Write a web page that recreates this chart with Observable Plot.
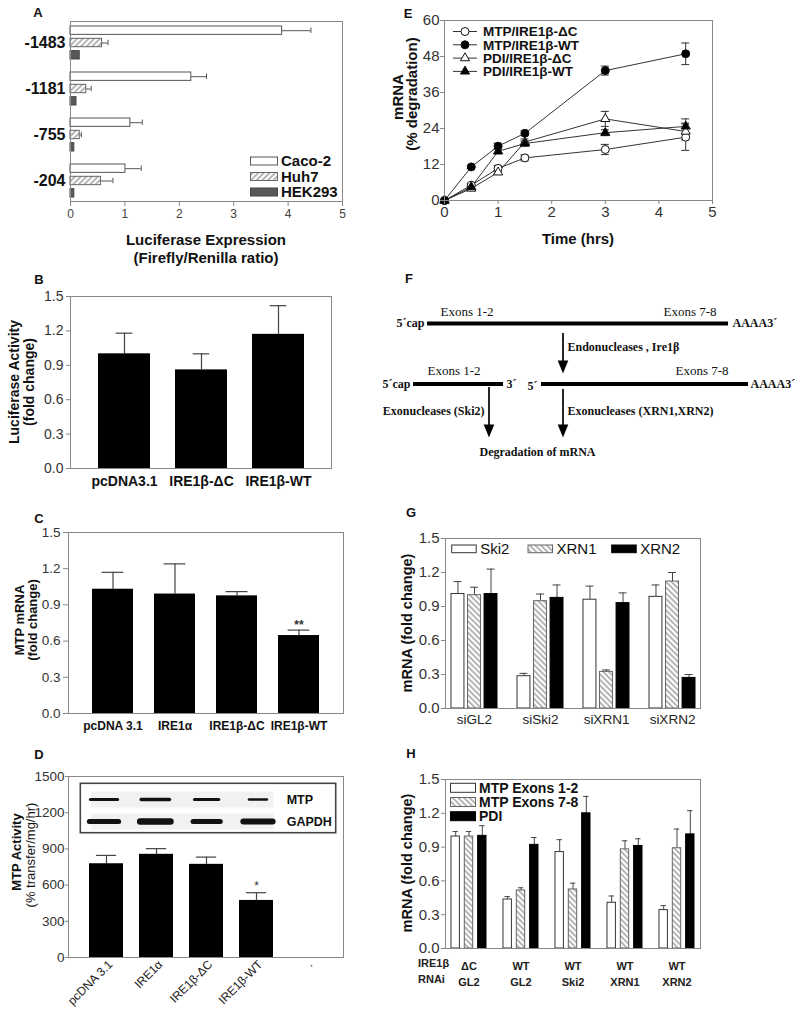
<!DOCTYPE html>
<html><head><meta charset="utf-8">
<script src="https://cdn.jsdelivr.net/npm/d3@7"></script>
<script src="https://cdn.jsdelivr.net/npm/@observablehq/plot@0.6"></script>
<style>
body{margin:0;background:#fff;}
#fig{position:relative;width:800px;height:1012px;overflow:hidden;font-family:"Liberation Sans",Arial,sans-serif;color:#111;background:#fff;}
.t{position:absolute;white-space:nowrap;line-height:1;}
</style></head><body><div id="fig"></div><script>
// ---------------- DATA ----------------
// Panel A
const aGroups = ["-1483", "-1181", "-755", "-204"];
const aSeries = ["Caco-2", "Huh7", "HEK293"];
const aCaco = [3.89, 2.22, 1.10, 1.01];
const aCacoErr = [0.53, 0.28, 0.22, 0.29];
const aHuh7 = [0.58, 0.29, 0.17, 0.56];
const aHuh7Err = [0.11, 0.09, 0.03, 0.22];
const aHEK = [0.17, 0.11, 0.07, 0.07];
const aHEKErr = [0, 0, 0, 0];
const aTicks = [0, 1, 2, 3, 4, 5];
// Panel B
const bCats = ["pcDNA3.1", "IRE1β-ΔC", "IRE1β-WT"];
const bVals = [1.00, 0.86, 1.17];
const bErr = [0.18, 0.14, 0.25];
const foldTicks = [0, 0.3, 0.6, 0.9, 1.2, 1.5];
// Panel C
const cCats = ["pcDNA 3.1", "IRE1α", "IRE1β-ΔC", "IRE1β-WT"];
const cVals = [1.03, 0.99, 0.975, 0.646];
const cErr = [0.14, 0.25, 0.035, 0.045];
const cSig = ["", "", "", "**"];
// Panel D
const dCats = ["pcDNA 3.1", "IRE1α", "IRE1β-ΔC", "IRE1β-WT", "."];
const dVals = [777, 855, 772, 473, null];
const dErr = [69, 47, 60, 64, null];
const dSig = ["", "", "", "*", ""];
const dTicks = [0, 300, 600, 900, 1200, 1500];
const blotRows = ["MTP", "GAPDH"];
const blotLanes = [1, 2, 3, 4];
const blotMtpLen = [0.53, 0.55, 0.47, 0.35];
const blotMtpThick = [3, 3.5, 3.2, 2.5];
const blotGapdhLen = [0.57, 0.59, 0.53, 0.57];
const blotGapdhThick = [5, 6.5, 5, 6];
// Panel E
const eTime = [0, 0.5, 1, 1.5, 3, 4.5];
const eMtpDC = [0, 5.1, 10.7, 14.2, 17.0, 21.1];
const eMtpDCErr = [0, 0.6, 1.0, 1.0, 1.7, 4.4];
const eMtpWT = [0, 11.2, 18.1, 22.4, 43.3, 48.9];
const eMtpWTErr = [0, 0.5, 1.0, 0.8, 1.5, 3.6];
const ePdiDC = [0, 4.0, 9.4, 19.5, 27.2, 23.0];
const ePdiDCErr = [0, 0.5, 0.6, 1.0, 2.5, 2.8];
const ePdiWT = [0, 4.5, 16.4, 19.0, 22.6, 24.7];
const ePdiWTErr = [0, 0.5, 0.8, 0.8, 1.0, 2.5];
const eSeriesNames = ["MTP/IRE1β-ΔC", "MTP/IRE1β-WT", "PDI/IRE1β-ΔC", "PDI/IRE1β-WT"];
const eYTicks = [0, 12, 24, 36, 48, 60];
const eXTicks = [0, 1, 2, 3, 4, 5];
// Panel F (diagram, in page-like units)
const fStrands = [
  {x1: 427, x2: 728, y: 323},
  {x1: 413, x2: 503, y: 383.5},
  {x1: 541, x2: 748, y: 383.5}
];
const fArrows = [
  {x: 562.5, y1: 333, y2: 373},
  {x: 488.5, y1: 387, y2: 437},
  {x: 562.5, y1: 389, y2: 437}
];
const fLabelsStartBold = [
  {x: 732, y: 323, text: "AAAA3´"},
  {x: 567, y: 346.5, text: "Endonucleases , Ire1β"},
  {x: 506, y: 384, text: "3´"},
  {x: 527, y: 385.5, text: "5´"},
  {x: 750, y: 384, text: "AAAA3´"},
  {x: 567, y: 411, text: "Exonucleases (XRN1,XRN2)"},
  {x: 479, y: 452, text: "Degradation of mRNA"}
];
const fLabelsEndBold = [
  {x: 424, y: 323, text: "5´cap"},
  {x: 410, y: 384, text: "5´cap"},
  {x: 484, y: 411, text: "Exonucleases (Ski2)"}
];
const fLabelsStartPlain = [
  {x: 440, y: 311, text: "Exons 1-2"},
  {x: 663, y: 311, text: "Exons 7-8"},
  {x: 427, y: 370, text: "Exons 1-2"},
  {x: 675, y: 370, text: "Exons 7-8"}
];
// Panel G
const gGroups = ["siGL2", "siSki2", "siXRN1", "siXRN2"];
const gSeries = ["Ski2", "XRN1", "XRN2"];
const gSki2 = [1.01, 0.285, 0.96, 0.985];
const gSki2Err = [0.11, 0.025, 0.12, 0.105];
const gXRN1 = [1.00, 0.947, 0.323, 1.12];
const gXRN1Err = [0.07, 0.063, 0.017, 0.08];
const gXRN2 = [1.01, 0.976, 0.93, 0.27];
const gXRN2Err = [0.22, 0.114, 0.09, 0.03];
// Panel H
const hIre = ["ΔC", "WT", "WT", "WT", "WT"];
const hRnai = ["GL2", "GL2", "Ski2", "XRN1", "XRN2"];
const hSeries = ["MTP Exons 1-2", "MTP Exons 7-8", "PDI"];
const hEx12 = [0.994, 0.435, 0.856, 0.406, 0.341];
const hEx12Err = [0.044, 0.026, 0.11, 0.06, 0.04];
const hEx78 = [0.994, 0.515, 0.524, 0.88, 0.89];
const hEx78Err = [0.044, 0.024, 0.056, 0.076, 0.17];
const hPdi = [1.0, 0.92, 1.2, 0.91, 1.013];
const hPdiErr = [0.09, 0.065, 0.15, 0.064, 0.21];

// ---------------- HELPERS ----------------
const FONT = '"Liberation Sans", Arial, sans-serif';
const SERIF = '"Liberation Serif", "Times New Roman", serif';
const fig = document.getElementById("fig");
const intFmt = d3.format("d");
const oneFmt = d3.format(".1f");

const defs = d3.select(fig).append("svg").attr("width", 0).attr("height", 0)
  .style("position", "absolute").append("defs");
function hatch(id, angle) {
  const p = defs.append("pattern").attr("id", id).attr("patternUnits", "userSpaceOnUse")
    .attr("width", 4).attr("height", 4).attr("patternTransform", `rotate(${angle})`);
  p.append("rect").attr("width", 4).attr("height", 4).attr("fill", "#fff");
  p.append("line").attr("x1", 2).attr("x2", 2).attr("y1", 0).attr("y2", 4)
    .attr("stroke", "#7a7a7a").attr("stroke-width", 1.1);
}
hatch("hatchUp", 45);
hatch("hatchDown", -45);

function addPlot(opts, left, top) {
  const p = Plot.plot({...opts, style: {fontFamily: FONT, background: "transparent", overflow: "visible", color: "#222", ...(opts.style || {})}});
  p.style.position = "absolute";
  p.style.left = left + "px";
  p.style.top = top + "px";
  fig.appendChild(p);
  return p;
}
function txt(s, x, y, {size = 13, weight = "bold", anchor = "middle", rotate = 0, family = FONT, color = "#111"} = {}) {
  const d = document.createElement("div");
  d.className = "t";
  d.textContent = s;
  d.style.fontSize = size + "px";
  d.style.fontWeight = weight;
  d.style.fontFamily = family;
  d.style.color = color;
  d.style.left = x + "px";
  d.style.top = y + "px";
  const tx = anchor === "middle" ? "-50%" : anchor === "end" ? "-100%" : "0";
  d.style.transform = `translate(${tx},-50%)` + (rotate ? ` rotate(${rotate}deg)` : "");
  fig.appendChild(d);
  return d;
}
function subInsets(bw, barW, k, n) {
  const gap = (bw - barW) / (n - 1);
  const start = k * gap;
  return {start, end: bw - barW - start, center: start + barW / 2 - bw / 2};
}
function grouped(groups, names, vals, errs) {
  return names.map((s, k) => groups.map((g, i) => ({group: g, series: s, value: vals[k][i], err: errs[k][i]})));
}
function bandwidth(range, n, pi, po) { return range / (n - pi + 2 * po) * (1 - pi); }

// ---------------- PANEL A ----------------
{
  const pi = 0.29, po = 0.086;
  const bw = bandwidth(180, aGroups.length, pi, po);
  const rowsBy = grouped(aGroups, aSeries, [aCaco, aHuh7, aHEK], [aCacoErr, aHuh7Err, aHEKErr]);
  const sty = [{fill: "#fff", stroke: "#555"}, {fill: "url(#hatchUp)", stroke: "#666"}, {fill: "#595959", stroke: "#444"}];
  addPlot({
    width: 350, height: 230, marginLeft: 70, marginRight: 8, marginTop: 21, marginBottom: 29,
    x: {domain: [0, 5], label: null},
    y: {type: "band", domain: aGroups, paddingInner: pi, paddingOuter: po, label: null},
    marks: [
      ...rowsBy.flatMap((rows, k) => {
        const ins = subInsets(bw, 8.3, k, 3);
        const we = rows.filter(d => d.err > 0);
        return [
          Plot.ruleY(we, {y: "group", x1: "value", x2: d => d.value + d.err, dy: ins.center, stroke: "#555"}),
          Plot.tickX(we, {y: "group", x: d => d.value + d.err, insetTop: ins.start + 1.5, insetBottom: ins.end + 1.5, stroke: "#555"}),
          Plot.barX(rows, {y: "group", x1: 0, x2: "value", insetTop: ins.start, insetBottom: ins.end, strokeWidth: 1, ...sty[k]})
        ];
      }),
      Plot.frame({stroke: "#888"}),
      Plot.axisX({ticks: aTicks, tickFormat: intFmt, tickSize: 5, tickPadding: 3, fontSize: 12, stroke: "#888", fill: "#444"}),
      Plot.axisY({tickSize: 0, tickPadding: 5, fontSize: 16, fontWeight: "bold", fill: "#111"})
    ]
  }, 0, 0);
  txt("Luciferase Expression", 206, 239, {size: 15});
  txt("(Firefly/Renilla ratio)", 206, 257, {size: 15});
  // legend
  const lg = d3.select(fig).append("svg").attr("width", 110).attr("height", 50)
    .style("position", "absolute").style("left", "248px").style("top", "152px");
  aSeries.forEach((s, k) => {
    lg.append("rect").attr("x", 2.5).attr("y", 5 + k * 15.5).attr("width", 27).attr("height", 8)
      .attr("fill", sty[k].fill).attr("stroke", sty[k].stroke);
    lg.append("text").attr("x", 33).attr("y", 9 + k * 15.5).attr("dy", "0.36em").text(s)
      .attr("font-family", FONT).attr("font-size", 15).attr("font-weight", "bold").attr("fill", "#111");
  });
}

// ---------------- PANEL B ----------------
{
  const rows = bCats.map((c, i) => ({cat: c, value: bVals[i], err: bErr[i]}));
  const pi = 0.326, po = 0.342;
  const bw = bandwidth(261, 3, pi, po);
  const capIn = (bw - 17) / 2;
  addPlot({
    width: 341, height: 208, marginLeft: 70, marginRight: 10, marginTop: 10, marginBottom: 26,
    x: {type: "band", domain: bCats, paddingInner: pi, paddingOuter: po, label: null},
    y: {domain: [0, 1.5], label: null},
    marks: [
      Plot.ruleX(rows, {x: "cat", y1: "value", y2: d => d.value + d.err, stroke: "#444", strokeWidth: 1.2}),
      Plot.tickY(rows, {x: "cat", y: d => d.value + d.err, insetLeft: capIn, insetRight: capIn, stroke: "#444", strokeWidth: 1.2}),
      Plot.barY(rows, {x: "cat", y1: 0, y2: "value", fill: "#000"}),
      Plot.frame({stroke: "#888"}),
      Plot.axisY({ticks: foldTicks, tickFormat: oneFmt, tickSize: 4, tickPadding: 3, fontSize: 14, stroke: "#888", fill: "#333"}),
      Plot.axisX({tickSize: 0, tickPadding: 8, fontSize: 14, fontWeight: "bold", fill: "#111"})
    ]
  }, 0, 286);
  txt("Luciferase Activity", 14, 382, {size: 14, rotate: -90});
  txt("(fold change)", 29, 382, {size: 14, rotate: -90});
}

// ---------------- PANEL C ----------------
{
  const rows = cCats.map((c, i) => ({cat: c, value: cVals[i], err: cErr[i], sig: cSig[i]}));
  const pi = 0.338, po = 0.38;
  const bw = bandwidth(275, 4, pi, po);
  const capIn = (bw - 22) / 2;
  addPlot({
    width: 353, height: 215, marginLeft: 68, marginRight: 10, marginTop: 10, marginBottom: 24,
    x: {type: "band", domain: cCats, paddingInner: pi, paddingOuter: po, label: null},
    y: {domain: [0, 1.5], label: null},
    marks: [
      Plot.ruleX(rows, {x: "cat", y1: "value", y2: d => d.value + d.err, stroke: "#444", strokeWidth: 1.2}),
      Plot.tickY(rows, {x: "cat", y: d => d.value + d.err, insetLeft: capIn, insetRight: capIn, stroke: "#444", strokeWidth: 1.2}),
      Plot.barY(rows, {x: "cat", y1: 0, y2: "value", fill: "#000"}),
      Plot.text(rows, {x: "cat", y: d => d.value + d.err, text: "sig", dy: -5, fontSize: 12, fontWeight: "bold", fill: "#333"}),
      Plot.frame({stroke: "#888"}),
      Plot.axisY({ticks: foldTicks, tickFormat: oneFmt, tickSize: 5, tickPadding: 3, fontSize: 13.5, stroke: "#888", fill: "#333"}),
      Plot.axisX({tickSize: 0, tickPadding: 8, fontSize: 12, fontWeight: "bold", fill: "#111"})
    ]
  }, 0, 522);
  txt("MTP mRNA", 19, 620, {size: 13, rotate: -90});
  txt("(fold change)", 32, 620, {size: 13, rotate: -90});
}

// ---------------- PANEL D ----------------
{
  const rows = dCats.map((c, i) => ({cat: c, value: dVals[i], err: dErr[i], sig: dSig[i]})).filter(d => d.value != null);
  const pi = 0.33, po = 0.39;
  const bw = bandwidth(275, 5, pi, po);
  const capIn = (bw - 20) / 2;
  addPlot({
    width: 353, height: 246, marginLeft: 68, marginRight: 10, marginTop: 10, marginBottom: 55,
    x: {type: "band", domain: dCats, paddingInner: pi, paddingOuter: po, label: null},
    y: {domain: [0, 1500], label: null},
    marks: [
      Plot.ruleX(rows, {x: "cat", y1: "value", y2: d => d.value + d.err, stroke: "#444", strokeWidth: 1.2}),
      Plot.tickY(rows, {x: "cat", y: d => d.value + d.err, insetLeft: capIn, insetRight: capIn, stroke: "#444", strokeWidth: 1.2}),
      Plot.barY(rows, {x: "cat", y1: 0, y2: "value", fill: "#000"}),
      Plot.text(rows, {x: "cat", y: d => d.value + d.err, text: "sig", dy: -7, fontSize: 12, fill: "#333"}),
      Plot.frame({stroke: "#888"}),
      Plot.axisY({ticks: dTicks, tickFormat: intFmt, tickSize: 3, tickPadding: 1, fontSize: 13.5, stroke: "#888", fill: "#333"}),
      Plot.axisX({tickSize: 0, tickPadding: 5, tickRotate: -45, fontSize: 12, fill: "#222", dx: 4})
    ]
  }, 0, 766);
  txt("MTP Activity", 16, 852, {size: 13, rotate: -90});
  txt("(% transfer/mg/hr)", 30, 855, {size: 13, weight: "normal", rotate: -90});
  // blot inset
  const blot = [
    ...blotLanes.map((l, i) => ({row: "MTP", lane: l, len: blotMtpLen[i], thick: blotMtpThick[i]})),
    ...blotLanes.map((l, i) => ({row: "GAPDH", lane: l, len: blotGapdhLen[i], thick: blotGapdhThick[i]}))
  ];
  addPlot({
    width: 257, height: 51, margin: 0,
    x: {domain: [0.513, 5.52], axis: null},
    y: {type: "point", domain: blotRows, range: [16.5, 38.5], padding: 0, axis: null},
    marks: [
      Plot.frame({fill: "#fff", stroke: "#444", strokeWidth: 1.6, inset: 0.8}),
      Plot.ruleY(blotRows, {y: d => d, x1: 0.75, x2: 4.3, stroke: "#f1f1f1", strokeWidth: 16}),
      Plot.ruleY(blot, {y: "row", x1: d => d.lane - d.len / 2, x2: d => d.lane + d.len / 2, strokeWidth: "thick", stroke: "#111", strokeLinecap: "round"}),
      Plot.text(blotRows, {x: 4.55, y: d => d, text: d => d, textAnchor: "start", fontSize: 12.5, fontWeight: "bold", fill: "#111"})
    ]
  }, 79, 782);
}

// ---------------- PANEL E ----------------
const eDefs = [
  {name: eSeriesNames[0], v: eMtpDC, e: eMtpDCErr, symbol: "circle", fill: "#fff", r: 4},
  {name: eSeriesNames[1], v: eMtpWT, e: eMtpWTErr, symbol: "circle", fill: "#000", r: 4},
  {name: eSeriesNames[2], v: ePdiDC, e: ePdiDCErr, symbol: "triangle", fill: "#fff", r: 3.4},
  {name: eSeriesNames[3], v: ePdiWT, e: ePdiWTErr, symbol: "triangle", fill: "#000", r: 3.4}
];
{
  const rows = eDefs.flatMap(s => eTime.map((t, i) => ({series: s.name, t, v: s.v[i], e: s.e[i]})));
  const er = rows.filter(d => d.e > 0);
  addPlot({
    width: 322, height: 212, marginLeft: 44, marginRight: 10, marginTop: 10, marginBottom: 22,
    x: {domain: [0, 5], label: null},
    y: {domain: [0, 60], label: null},
    marks: [
      ...eDefs.map(s => Plot.line(rows.filter(d => d.series === s.name), {x: "t", y: "v", stroke: "#333", strokeWidth: 1})),
      Plot.ruleX(er, {x: "t", y1: d => d.v - d.e, y2: d => d.v + d.e, stroke: "#333"}),
      Plot.ruleY(er, {x1: "t", x2: "t", y: d => d.v + d.e, insetLeft: -4, insetRight: -4, stroke: "#333"}),
      Plot.ruleY(er, {x1: "t", x2: "t", y: d => d.v - d.e, insetLeft: -4, insetRight: -4, stroke: "#333"}),
      ...eDefs.map(s => Plot.dot(rows.filter(d => d.series === s.name), {x: "t", y: "v", symbol: s.symbol, r: s.r, fill: s.fill, stroke: "#111", strokeWidth: 1})),
      Plot.frame({stroke: "#888"}),
      Plot.axisY({ticks: eYTicks, tickFormat: intFmt, tickSize: 4, tickPadding: 1, fontSize: 15, stroke: "#888", fill: "#333"}),
      Plot.axisX({ticks: eXTicks, tickFormat: intFmt, tickSize: 4, tickPadding: 2, fontSize: 15, stroke: "#888", fill: "#333"})
    ]
  }, 400, 10);
  txt("mRNA", 397, 97, {size: 15, rotate: -90});
  txt("(% degradation)", 411, 94, {size: 15, rotate: -90});
  txt("Time (hrs)", 578, 238, {size: 15});
  const lg = d3.select(fig).append("svg").attr("width", 150).attr("height", 58)
    .style("position", "absolute").style("left", "448px").style("top", "24px");
  const tri = d3.symbol(d3.symbolTriangle, Math.PI * 3.4 * 3.4)();
  eDefs.forEach((s, k) => {
    const y = 7.5 + k * 13.3;
    lg.append("line").attr("x1", 5).attr("x2", 29).attr("y1", y).attr("y2", y).attr("stroke", "#333");
    if (s.symbol === "circle") lg.append("circle").attr("cx", 17).attr("cy", y).attr("r", 4).attr("fill", s.fill).attr("stroke", "#111");
    else lg.append("path").attr("d", tri).attr("transform", `translate(17,${y})`).attr("fill", s.fill).attr("stroke", "#111");
    lg.append("text").attr("x", 35).attr("y", y).attr("dy", "0.36em").text(s.name)
      .attr("font-family", FONT).attr("font-size", 13.5).attr("font-weight", "bold").attr("fill", "#111");
  });
}

// ---------------- PANEL F ----------------
{
  const headH = 13, headW = 10.6;
  const head = {draw(ctx) { ctx.moveTo(-headW / 2, -headH / 2); ctx.lineTo(headW / 2, -headH / 2); ctx.lineTo(0, headH / 2); ctx.closePath(); }};
  const txtOpts = {x: "x", y: "y", text: "text", fontFamily: SERIF, fill: "#111"};
  addPlot({
    width: 440, height: 180, margin: 0,
    x: {domain: [360, 800], range: [0, 440], axis: null},
    y: {domain: [290, 470], range: [0, 180], axis: null},
    marks: [
      Plot.ruleY(fStrands, {y: "y", x1: "x1", x2: "x2", stroke: "#000", strokeWidth: 4}),
      Plot.ruleX(fArrows, {x: "x", y1: "y1", y2: d => d.y2 - headH + 1, stroke: "#000", strokeWidth: 1.7}),
      Plot.dot(fArrows, {x: "x", y: d => d.y2 - headH / 2, symbol: head, r: 1, fill: "#000", stroke: "none"}),
      Plot.text(fLabelsStartBold, {...txtOpts, textAnchor: "start", fontWeight: "bold", fontSize: 12}),
      Plot.text(fLabelsEndBold, {...txtOpts, textAnchor: "end", fontWeight: "bold", fontSize: 12}),
      Plot.text(fLabelsStartPlain, {...txtOpts, textAnchor: "start", fontSize: 13})
    ]
  }, 360, 290);
}

// ---------------- PANEL G ----------------
{
  const pi = 0.31, po = 0.086;
  const bw = bandwidth(255, 4, pi, po);
  const rowsBy = grouped(gGroups, gSeries, [gSki2, gXRN1, gXRN2], [gSki2Err, gXRN1Err, gXRN2Err]);
  const sty = [{fill: "#fff", stroke: "#333"}, {fill: "url(#hatchDown)", stroke: "#666"}, {fill: "#000", stroke: "#000"}];
  const barW = 12.5;
  addPlot({
    width: 310, height: 202, marginLeft: 45, marginRight: 10, marginTop: 10, marginBottom: 22,
    x: {type: "band", domain: gGroups, paddingInner: pi, paddingOuter: po, label: null},
    y: {domain: [0, 1.5], label: null},
    marks: [
      ...rowsBy.flatMap((rows, k) => {
        const ins = subInsets(bw, barW, k, 3);
        return [
          Plot.ruleX(rows, {x: "group", y1: "value", y2: d => d.value + d.err, dx: ins.center, stroke: "#444"}),
          Plot.tickY(rows, {x: "group", y: d => d.value + d.err, insetLeft: ins.start + 2.5, insetRight: ins.end + 2.5, stroke: "#444"}),
          Plot.barY(rows, {x: "group", y1: 0, y2: "value", insetLeft: ins.start, insetRight: ins.end, strokeWidth: 1, ...sty[k]})
        ];
      }),
      Plot.frame({stroke: "#888"}),
      Plot.axisY({ticks: foldTicks, tickFormat: oneFmt, tickSize: 4, tickPadding: 2, fontSize: 15, stroke: "#888", fill: "#333"}),
      Plot.axisX({tickSize: 0, tickPadding: 6, fontSize: 13.5, fill: "#222"})
    ]
  }, 400, 528);
  txt("mRNA (fold change)", 407, 623, {size: 14.5, rotate: -90});
  const lg = d3.select(fig).append("svg").attr("width", 250).attr("height", 18)
    .style("position", "absolute").style("left", "448px").style("top", "540px");
  const xs = [3.7, 80, 163.7];
  gSeries.forEach((s, k) => {
    lg.append("rect").attr("x", xs[k]).attr("y", 5).attr("width", 24.5).attr("height", 7.7)
      .attr("fill", sty[k].fill).attr("stroke", sty[k].stroke);
    lg.append("text").attr("x", xs[k] + 28.5).attr("y", 9).attr("dy", "0.36em").text(s)
      .attr("font-family", FONT).attr("font-size", 15).attr("fill", "#111");
  });
}

// ---------------- PANEL H ----------------
{
  const hGroups = hIre.map((d, i) => d + " " + hRnai[i]);
  const pi = 0.32, po = 0.095;
  const bw = bandwidth(255, 5, pi, po);
  const rowsBy = grouped(hGroups, hSeries, [hEx12, hEx78, hPdi], [hEx12Err, hEx78Err, hPdiErr]);
  const sty = [{fill: "#fff", stroke: "#333"}, {fill: "url(#hatchDown)", stroke: "#666"}, {fill: "#000", stroke: "#000"}];
  const barW = 9;
  addPlot({
    width: 310, height: 224, marginLeft: 45, marginRight: 10, marginTop: 10, marginBottom: 45,
    x: {type: "band", domain: hGroups, paddingInner: pi, paddingOuter: po, label: null},
    y: {domain: [0, 1.5], label: null},
    marks: [
      ...rowsBy.flatMap((rows, k) => {
        const ins = subInsets(bw, barW, k, 3);
        return [
          Plot.ruleX(rows, {x: "group", y1: "value", y2: d => d.value + d.err, dx: ins.center, stroke: "#444"}),
          Plot.tickY(rows, {x: "group", y: d => d.value + d.err, insetLeft: ins.start + 1.5, insetRight: ins.end + 1.5, stroke: "#444"}),
          Plot.barY(rows, {x: "group", y1: 0, y2: "value", insetLeft: ins.start, insetRight: ins.end, strokeWidth: 1, ...sty[k]})
        ];
      }),
      Plot.frame({stroke: "#888"}),
      Plot.axisY({ticks: foldTicks, tickFormat: oneFmt, tickSize: 4, tickPadding: 2, fontSize: 15, stroke: "#888", fill: "#333"}),
      Plot.axisX({tickSize: 0, tickPadding: 10, fontSize: 11, fontWeight: "bold", lineHeight: 1.45, fill: "#222",
        tickFormat: (d) => hIre[hGroups.indexOf(d)] + "\n" + hRnai[hGroups.indexOf(d)]})
    ]
  }, 400, 769);
  txt("mRNA (fold change)", 407, 863, {size: 14.5, rotate: -90});
  txt("IRE1β", 418, 963, {size: 11, anchor: "start", color: "#222"});
  txt("RNAi", 418, 979, {size: 11, anchor: "start", color: "#222"});
  const lg = d3.select(fig).append("svg").attr("width", 160).attr("height", 45)
    .style("position", "absolute").style("left", "448px").style("top", "779px");
  hSeries.forEach((s, k) => {
    lg.append("rect").attr("x", 2.5).attr("y", 4.3 + k * 14.2).attr("width", 25).attr("height", 9)
      .attr("fill", sty[k].fill).attr("stroke", sty[k].stroke);
    lg.append("text").attr("x", 31).attr("y", 9 + k * 14.2).attr("dy", "0.36em").text(s)
      .attr("font-family", FONT).attr("font-size", 14).attr("font-weight", "bold").attr("fill", "#111");
  });
}

// ---------------- PANEL LETTERS ----------------
[["A", 38, 12], ["B", 39, 279], ["C", 39, 518], ["D", 39, 754], ["E", 408, 12.5], ["F", 409, 277.5], ["G", 411, 511.5], ["H", 411, 752.5]]
  .forEach(([l, x, y]) => txt(l, x, y, {size: 13}));
</script></body></html>
